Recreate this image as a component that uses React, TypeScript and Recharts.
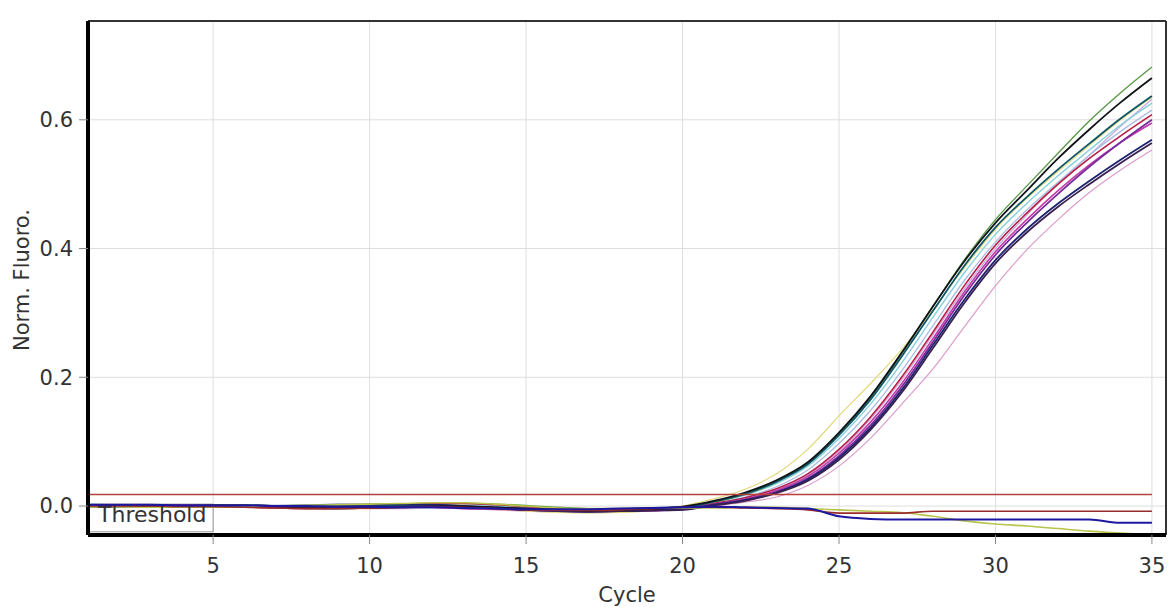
import React from 'react';
import { LineChart, Line, XAxis, YAxis, CartesianGrid, ReferenceLine, ReferenceArea } from 'recharts';

const cycles = [1, 2, 3, 4, 5, 6, 7, 8, 9, 10, 11, 12, 13, 14, 15, 16, 17, 18, 19, 20, 21, 22, 23, 24, 25, 26, 27, 28, 29, 30, 31, 32, 33, 34, 35];
const xTicks = [5, 10, 15, 20, 25, 30, 35];
const yTicks = [0, 0.2, 0.4, 0.6];
const threshold = 0.018;

// amplification curves
const green = [0.002, 0.002, 0.001, 0.001, 0.000, 0.000, -0.001, -0.002, -0.002, -0.001, 0.001, 0.003, 0.004, 0.003, 0.001, -0.002, -0.004, -0.005, -0.004, -0.002, 0.006, 0.018, 0.037, 0.066, 0.112, 0.168, 0.236, 0.310, 0.382, 0.445, 0.497, 0.548, 0.598, 0.642, 0.682];
const black = [0.001, 0.001, 0.000, 0.000, 0.001, 0.001, 0.000, -0.001, -0.001, -0.002, -0.002, -0.001, 0.000, -0.002, -0.004, -0.006, -0.007, -0.006, -0.004, -0.001, 0.008, 0.021, 0.040, 0.068, 0.114, 0.170, 0.238, 0.310, 0.380, 0.440, 0.490, 0.540, 0.585, 0.627, 0.665];
const darkTeal = [0.000, 0.001, 0.001, 0.000, -0.001, -0.001, 0.000, 0.001, 0.002, 0.002, 0.001, 0.000, -0.001, -0.003, -0.005, -0.006, -0.006, -0.005, -0.003, -0.002, 0.007, 0.019, 0.038, 0.065, 0.110, 0.165, 0.232, 0.303, 0.373, 0.433, 0.480, 0.523, 0.563, 0.602, 0.637];
const lightCyan = [0.003, 0.002, 0.002, 0.001, 0.001, 0.000, 0.000, 0.000, -0.001, -0.001, 0.000, 0.001, 0.001, 0.000, -0.002, -0.003, -0.004, -0.004, -0.003, -0.003, 0.006, 0.017, 0.035, 0.062, 0.105, 0.158, 0.222, 0.293, 0.362, 0.422, 0.470, 0.513, 0.553, 0.592, 0.626];
const lightYellow = [-0.002, -0.002, -0.001, -0.001, 0.000, 0.000, -0.001, -0.003, -0.004, -0.004, -0.003, -0.002, -0.003, -0.005, -0.008, -0.010, -0.011, -0.010, -0.007, 0.000, 0.011, 0.026, 0.050, 0.088, 0.140, 0.190, 0.243, 0.305, 0.370, 0.430, 0.478, 0.520, 0.560, 0.600, 0.635];
const lightBlue = [0.001, 0.000, 0.000, 0.001, 0.002, 0.002, 0.001, 0.000, -0.001, -0.002, -0.003, -0.003, -0.002, -0.003, -0.004, -0.005, -0.005, -0.004, -0.004, -0.004, 0.004, 0.014, 0.030, 0.056, 0.097, 0.148, 0.210, 0.280, 0.350, 0.410, 0.460, 0.503, 0.545, 0.582, 0.615];
const crimson = [0.000, 0.000, -0.001, -0.001, -0.002, -0.002, -0.003, -0.004, -0.003, -0.001, 0.002, 0.004, 0.004, 0.002, -0.001, -0.004, -0.006, -0.007, -0.006, -0.004, 0.004, 0.013, 0.027, 0.050, 0.088, 0.138, 0.200, 0.270, 0.342, 0.405, 0.455, 0.500, 0.540, 0.575, 0.608];
const magenta = [0.001, 0.001, 0.002, 0.002, 0.001, 0.000, -0.001, -0.001, 0.000, 0.001, 0.000, -0.002, -0.004, -0.005, -0.006, -0.007, -0.008, -0.008, -0.007, -0.005, 0.003, 0.011, 0.024, 0.046, 0.082, 0.130, 0.190, 0.260, 0.332, 0.395, 0.445, 0.490, 0.530, 0.565, 0.595];
const purple = [0.000, 0.000, 0.000, 0.000, 0.000, 0.000, -0.001, -0.002, -0.003, -0.003, -0.002, -0.001, -0.002, -0.004, -0.006, -0.008, -0.009, -0.008, -0.007, -0.005, 0.002, 0.010, 0.022, 0.043, 0.078, 0.125, 0.185, 0.255, 0.327, 0.390, 0.440, 0.485, 0.527, 0.565, 0.600];
const lavender = [0.002, 0.001, 0.000, 0.000, 0.000, 0.001, 0.001, 0.002, 0.003, 0.003, 0.002, 0.000, -0.002, -0.003, -0.003, -0.004, -0.005, -0.005, -0.005, -0.004, 0.003, 0.011, 0.025, 0.048, 0.085, 0.135, 0.196, 0.266, 0.337, 0.400, 0.452, 0.500, 0.545, 0.590, 0.632];
const navy = [0.001, 0.001, 0.001, 0.001, 0.001, 0.001, 0.000, -0.001, 0.000, 0.002, 0.003, 0.002, 0.000, -0.003, -0.006, -0.008, -0.009, -0.008, -0.006, -0.005, 0.002, 0.009, 0.021, 0.041, 0.075, 0.121, 0.180, 0.250, 0.320, 0.382, 0.430, 0.470, 0.505, 0.538, 0.569];
const darkPurple = [-0.001, -0.001, 0.000, 0.000, -0.001, -0.001, -0.002, -0.003, -0.004, -0.003, -0.001, 0.000, -0.001, -0.002, -0.004, -0.006, -0.008, -0.008, -0.007, -0.006, 0.001, 0.008, 0.020, 0.039, 0.072, 0.118, 0.176, 0.245, 0.315, 0.377, 0.425, 0.465, 0.500, 0.533, 0.564];
const pink = [0.000, -0.001, -0.001, 0.000, 0.001, 0.001, 0.000, -0.002, -0.003, -0.004, -0.004, -0.003, -0.004, -0.006, -0.008, -0.009, -0.010, -0.009, -0.008, -0.006, 0.000, 0.006, 0.014, 0.032, 0.062, 0.105, 0.158, 0.213, 0.278, 0.342, 0.398, 0.445, 0.487, 0.522, 0.553];

// negative controls
const negBrown = [0.000, 0.000, 0.000, -0.001, -0.001, -0.002, -0.003, -0.004, -0.004, -0.003, -0.002, -0.001, -0.002, -0.004, -0.006, -0.007, -0.007, -0.006, -0.004, -0.002, -0.002, -0.003, -0.004, -0.006, -0.011, -0.011, -0.011, -0.008, -0.008, -0.008, -0.008, -0.008, -0.008, -0.008, -0.008];
const negNavy = [0.002, 0.002, 0.002, 0.001, 0.001, 0.001, 0.000, 0.000, -0.001, -0.001, -0.002, -0.002, -0.003, -0.004, -0.005, -0.005, -0.005, -0.004, -0.003, -0.002, -0.001, -0.002, -0.003, -0.004, -0.016, -0.020, -0.021, -0.021, -0.021, -0.021, -0.021, -0.021, -0.021, -0.026, -0.026];
const negYellowGreen = [-0.001, -0.001, -0.002, -0.002, -0.002, -0.001, 0.000, 0.001, 0.002, 0.003, 0.004, 0.005, 0.005, 0.003, 0.000, -0.003, -0.004, -0.004, -0.003, -0.003, -0.003, -0.002, -0.002, -0.004, -0.006, -0.008, -0.010, -0.016, -0.023, -0.028, -0.031, -0.035, -0.039, -0.042, -0.045];

const series = [
  { key: 'pink', values: pink, color: '#dc9ccc', width: 1.2 },
  { key: 'lightYellow', values: lightYellow, color: '#e3d87c', width: 1.2 },
  { key: 'lavender', values: lavender, color: '#c8a8dc', width: 1.2 },
  { key: 'lightBlue', values: lightBlue, color: '#a9bde6', width: 1.3 },
  { key: 'lightCyan', values: lightCyan, color: '#86d0dc', width: 1.4 },
  { key: 'green', values: green, color: '#5a9a4a', width: 1.4 },
  { key: 'crimson', values: crimson, color: '#b81e46', width: 1.6 },
  { key: 'magenta', values: magenta, color: '#c43aa8', width: 1.6 },
  { key: 'purple', values: purple, color: '#7a2c9c', width: 1.8 },
  { key: 'darkTeal', values: darkTeal, color: '#0e5566', width: 1.8 },
  { key: 'navy', values: navy, color: '#1c2470', width: 1.8 },
  { key: 'darkPurple', values: darkPurple, color: '#3a2050', width: 1.8 },
  { key: 'black', values: black, color: '#101418', width: 1.8 },
  { key: 'negYellowGreen', values: negYellowGreen, color: '#b8c44c', width: 1.6 },
  { key: 'negBrown', values: negBrown, color: '#9a2c2c', width: 1.6 },
  { key: 'negNavy', values: negNavy, color: '#1e18a0', width: 2 },
];

const data = cycles.map((c, i) => {
  const row: any = { cycle: c };
  series.forEach(s => { row[s.key] = s.values[i]; });
  return row;
});

const font = 'DejaVu Sans, Verdana, sans-serif';

function YLabel(props: any) {
  const vb = props.viewBox || { x: 0, y: 21, width: 88, height: 514 };
  const cx = vb.x + 29;
  const cy = vb.y + vb.height / 2 + 2;
  return (
    <text x={cx} y={cy} transform={`rotate(-90 ${cx} ${cy})`} textAnchor="middle" fill="#333" fontSize={21} fontFamily={font}>
      Norm. Fluoro.
    </text>
  );
}

export default function App() {
  return (
    <div style={{ width: 1172, height: 607, background: '#fff', fontFamily: font }}>
      <style>{'body{margin:0;background:#fff}'}</style>
      <LineChart width={1172} height={607} data={data} margin={{ top: 21, right: 6, bottom: 0, left: 0 }}>
        <CartesianGrid stroke="#dedede" strokeWidth={1} />
        <XAxis
          dataKey="cycle"
          type="number"
          domain={[1, 35.45]}
          ticks={xTicks}
          allowDataOverflow
          height={72}
          tickSize={9}
          tickMargin={14}
          tickLine={{ stroke: '#888' }}
          axisLine={{ stroke: '#000', strokeWidth: 4 }}
          tick={{ fill: '#333', fontSize: 21, fontFamily: font }}
          label={{ value: 'Cycle', position: 'insideBottom', offset: 5, fill: '#333', fontSize: 21, fontFamily: font }}
        />
        <YAxis
          type="number"
          domain={[-0.045, 0.7535]}
          ticks={yTicks}
          allowDataOverflow
          width={88}
          tickSize={9}
          tickMargin={6}
          tickLine={{ stroke: '#888' }}
          axisLine={{ stroke: '#000', strokeWidth: 4 }}
          tick={{ fill: '#333', fontSize: 21, fontFamily: font }}
          tickFormatter={(v: number) => v.toFixed(1)}
          label={YLabel}
        />
        <ReferenceLine y={0.7535} stroke="#333" strokeWidth={2} />
        <ReferenceLine x={35.45} stroke="#333" strokeWidth={2} />
        {series.map(s => (
          <Line
            key={s.key}
            dataKey={s.key}
            type="monotone"
            stroke={s.color}
            strokeWidth={s.width}
            dot={false}
            isAnimationActive={false}
          />
        ))}
        <ReferenceLine
          segment={[{ x: 1, y: threshold }, { x: 35, y: threshold }]}
          stroke="#b8403a"
          strokeWidth={1.6}
        />
        <ReferenceArea
          x1={1}
          x2={5}
          y1={-0.04}
          y2={0.003}
          fill="none"
          stroke="#999"
          strokeWidth={1}
          label={{ value: 'Threshold', position: 'insideBottomLeft', offset: 10, fill: '#333', fontSize: 22, fontFamily: font }}
        />
      </LineChart>
    </div>
  );
}
